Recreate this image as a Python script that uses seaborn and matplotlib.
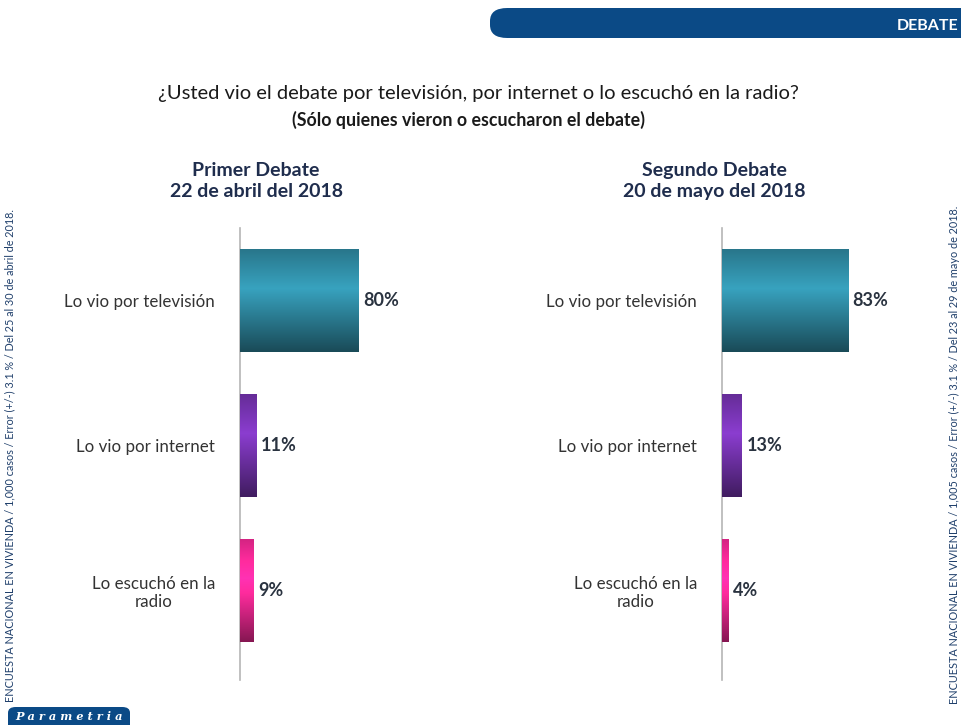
# Debate viewing chart: how people watched the 2018 presidential debates
import numpy as np
import pandas as pd
import matplotlib.pyplot as plt
import seaborn as sns
from matplotlib.patches import FancyBboxPatch

# data
respuestas = ["Lo vio por televisión", "Lo vio por internet", "Lo escuchó en la\nradio"]
primer_debate = [80, 11, 9]
segundo_debate = [83, 13, 4]
colores = ["#2b7d93", "#6b2fa0", "#e0268a"]
titulo_primer = "Primer Debate\n22 de abril del 2018"
titulo_segundo = "Segundo Debate\n20 de mayo del 2018"
nota_primer = ("ENCUESTA NACIONAL EN VIVIENDA / 1,000 casos / Error (+/-) 3.1 % / "
               "Del 25 al 30 de abril de 2018.")
nota_segundo = ("ENCUESTA NACIONAL EN VIVIENDA / 1,005 casos / Error (+/-) 3.1 % / "
                "Del 23 al 29 de mayo de 2018.")

sns.set_style("white")
plt.rcParams["font.family"] = ["Lato", "DejaVu Sans"]

W, H = 961, 725
fig = plt.figure(figsize=(W / 100, H / 100), dpi=100)
fig.patch.set_facecolor("white")


def px_axes(x0, y0, w, h):
    # y0 is top edge in pixels
    return fig.add_axes([x0 / W, 1 - (y0 + h) / H, w / W, h / H])


def gradient_bar(ax, patch, color):
    # cylinder look: light band a bit above the middle, dark toward the bottom
    x, y = patch.get_x(), patch.get_y()
    w, h = patch.get_width(), patch.get_height()
    base = np.array(plt.matplotlib.colors.to_rgb(color))
    t = np.linspace(0, 1, 64)
    shade = 1.3 - 0.35 * np.abs(t - 0.38) / 0.38
    shade = np.where(t > 0.38, 1.3 - 0.7 * (t - 0.38) / 0.62, shade)
    img = np.clip(base[None, :] * shade[:, None], 0, 1)
    img = np.repeat(img[:, None, :], 2, axis=1)
    im = ax.imshow(img, extent=[x, x + w, y + h, y], aspect="auto", zorder=3,
                   interpolation="bilinear")
    im.set_clip_path(patch)


def panel(x0, width, valores, titulo, titulo_x):
    ax = px_axes(x0, 228, width, 452)
    df = pd.DataFrame({"respuesta": respuestas, "valor": valores})
    sns.barplot(data=df, x="valor", y="respuesta", hue="respuesta",
                palette=colores, legend=False, width=0.71, ax=ax,
                edgecolor="none")
    ax.set_xlim(0, 100)
    ax.set_ylim(2.62, -0.5)
    for patch, c in zip(ax.patches, colores):
        gradient_bar(ax, patch, c)
    ax.set_xlabel("")
    ax.set_ylabel("")
    ax.set_xticks([])
    for s in ["top", "right", "bottom"]:
        ax.spines[s].set_visible(False)
    ax.spines["left"].set_color("#b5b5b5")
    ax.spines["left"].set_linewidth(1.2)
    ax.tick_params(axis="y", which="major", length=0, pad=18,
                   labelsize=12.2, labelcolor="#333333")
    ax.set_yticks([0.5, 1.5], minor=True)
    ax.tick_params(axis="y", which="minor", length=7, color="#b5b5b5",
                   width=1.2, direction="out")
    for lbl in ax.get_yticklabels():
        lbl.set_multialignment("center")
    for patch, v in zip(ax.patches, valores):
        ax.text(patch.get_width() + 3, patch.get_y() + patch.get_height() / 2,
                f"{v}%", va="center", ha="left", fontsize=13,
                fontweight="bold", color="#2a3340")
    fig.text(titulo_x / W, 1 - 181 / H, titulo, ha="center", va="center",
             fontsize=14, fontweight="bold", color="#1f2d4d", linespacing=1.25)
    return ax


panel(240, 148, primer_debate, titulo_primer, 256)
panel(722, 152, segundo_debate, titulo_segundo, 714)

# titles
fig.text(478 / W, 1 - 93 / H,
         "¿Usted vio el debate por televisión, por internet o lo escuchó en la radio?",
         ha="center", va="center", fontsize=14.5, color="#1a1a1a")
fig.text(469 / W, 1 - 120 / H, "(Sólo quienes vieron o escucharon el debate)",
         ha="center", va="center", fontsize=12.8, fontweight="bold", color="#1a1a1a")

# header band
band = FancyBboxPatch((490 / W, 1 - 38 / H), 500 / W, 30 / H,
                      boxstyle="round,pad=0,rounding_size=0.018",
                      transform=fig.transFigure, facecolor="#0b4a86",
                      edgecolor="none")
fig.patches.append(band)
fig.text(958 / W, 1 - 26 / H, "DEBATE", ha="right", va="center", fontsize=11.5,
         fontweight="bold", color="white")

# logo box bottom-left
logo = FancyBboxPatch((8 / W, -8 / H), 122 / W, 26 / H,
                      boxstyle="round,pad=0,rounding_size=0.008",
                      transform=fig.transFigure, facecolor="#0b4a86",
                      edgecolor="none")
fig.patches.append(logo)
fig.text(69 / W, 8 / H, "P a r a m e t r i a", ha="center", va="center",
         fontsize=8.2, fontweight="bold", fontstyle="italic", color="white",
         family=["DejaVu Serif"])

# side notes
fig.text(10 / W, 1 - 455 / H, nota_primer, rotation=90, ha="center", va="center",
         fontsize=7.8, color="#1f3f6b")
fig.text(954 / W, 1 - 455 / H, nota_segundo, rotation=90, ha="center", va="center",
         fontsize=7.8, color="#1f3f6b")

fig.savefig("out.png", dpi=100, facecolor="white")
